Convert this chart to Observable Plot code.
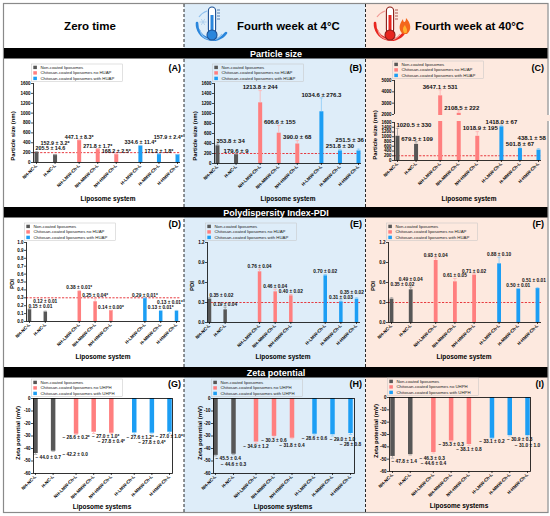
<!DOCTYPE html>
<html><head><meta charset="utf-8">
<script src="https://cdn.jsdelivr.net/npm/d3@7"></script>
<script src="https://cdn.jsdelivr.net/npm/@observablehq/plot@0.6"></script>
<style>
body{margin:0;background:#fff;}
#root{position:relative;width:550px;height:516px;font-family:"Liberation Sans",Arial,sans-serif;overflow:hidden;background:#fff;}
#root > svg, #root > div {position:absolute;}
</style></head><body><div id="root"></div>
<script>
// ---------- data ----------
const categories = ["NH-NC-L","H-NC-L","NH-LMW-Ch-L","NH-MMW-Ch-L","NH-HMW-Ch-L","H-LMW-Ch-L","H-MMW-Ch-L","H-HMW-Ch-L"];
const groups = [0,0,1,1,1,2,2,2];
const legendSize = ["Non-coated liposomes","Chitosan-coated liposomes no HUAP","Chitosan-coated liposomes with HUAP"];
const legendZeta = ["Non-coated liposomes","Chitosan-coated liposomes no UHPH","Chitosan-coated liposomes with UHPH"];

const sizeZero = [205.5,152.9,447.1,271.8,168.2,334.6,171.2,157.9];
const sizeZeroErr = [14.6,3.2,8.3,1.7,2.5,11.4,1.8,2.4];
const sizeZeroLab = ["205.5 ± 14.6","152.9 ± 3.2*","447.1 ± 8.3*","271.8 ± 1.7*","168.2 ± 2.5*","334.6 ± 11.4*","171.2 ± 1.8*","157.9 ± 2.4*"];
const size4 = [353.8,179.6,1213.8,606.6,390.0,1034.6,251.8,251.5];
const size4Err = [34,9,244,155,68,276.3,30,36];
const size4Lab = ["353.8 ± 34","179.6 ± 9","1213.8 ± 244","606.6 ± 155","390.0 ± 68","1034.6 ± 276.3","251.8 ± 30","251.5 ± 36"];
const size40 = [1020.5,679.5,3647.1,2108.5,1018.9,1418.0,501.8,438.1];
const size40Err = [330,109,531,222,195,67,67,58];
const size40Lab = ["1020.5 ± 330","679.5 ± 109","3647.1 ± 531","2108.5 ± 222","1018.9 ± 195","1418.0 ± 67","501.8 ± 67","438.1 ± 58"];

const pdiZero = [0.15,0.12,0.38,0.25,0.14,0.29,0.13,0.13];
const pdiZeroErr = [0.01,0.01,0.01,0.04,0.00,0.01,0.01,0.01];
const pdiZeroLab = ["0.15 ± 0.01","0.12 ± 0.01","0.38 ± 0.01*","0.25 ± 0.04*","0.14 ± 0.00*","0.29 ± 0.01*","0.13 ± 0.01*","0.13 ± 0.01*"];
const pdi4 = [0.35,0.19,0.76,0.46,0.40,0.70,0.31,0.35];
const pdi4Err = [0.02,0.04,0.04,0.04,0.02,0.02,0.03,0.02];
const pdi4Lab = ["0.35 ± 0.02","0.19 ± 0.04","0.76 ± 0.04","0.46 ± 0.04","0.40 ± 0.02","0.70 ± 0.02","0.31 ± 0.03","0.35 ± 0.02"];
const pdi40 = [0.35,0.49,0.93,0.61,0.71,0.88,0.50,0.51];
const pdi40Err = [0.02,0.04,0.04,0.05,0.02,0.10,0.01,0.01];
const pdi40Lab = ["0.35 ± 0.02","0.49 ± 0.04","0.93 ± 0.04","0.61 ± 0.05","0.71 ± 0.02","0.88 ± 0.10","0.50 ± 0.01","0.51 ± 0.01"];

const zetaZero = [-44.0,-42.2,-28.6,-27.0,-27.8,-27.6,-27.8,-27.0];
const zetaZeroErr = [0.7,0.0,0.2,1.0,0.4,1.2,0.4,1.0];
const zetaZeroLab = ["− 44.0 ± 0.7","− 42.2 ± 0.0","− 28.6 ± 0.2*","− 27.0 ± 1.0*","− 27.8 ± 0.4*","− 27.6 ± 1.2*","− 27.8 ± 0.4*","− 27.0 ± 1.0*"];
const zeta4 = [-45.5,-44.6,-34.9,-30.3,-31.8,-28.6,-29.0,-28.0];
const zeta4Err = [0.4,0.3,1.2,0.6,0.4,0.6,1.0,0.8];
const zeta4Lab = ["− 45.5 ± 0.4","− 44.6 ± 0.3","− 34.9 ± 1.2","− 30.3 ± 0.6","− 31.8 ± 0.4","− 28.6 ± 0.6","− 29.0 ± 1.0","− 28 ± 0.8"];
const zeta40 = [-47.8,-46.3,-44.6,-35.3,-38.1,-33.1,-30.9,-31.0];
const zeta40Err = [1.4,0.3,0.4,0.3,0.8,0.2,0.3,1.0];
const zeta40Lab = ["− 47.8 ± 1.4","− 46.3 ± 0.3","− 44.6 ± 0.4","− 35.3 ± 0.3","− 38.1 ± 0.8","− 33.1 ± 0.2","− 30.9 ± 0.3","− 31.0 ± 1.0"];

const sizeTicks = [0,200,400,600,800,1000,1200,1400,1600];
const sizeTicksBroken = [0,200,400,600,800,1000,1200,1400,1600,2000,3000,4000,5000];
const pdiTicksFine = [0,0.1,0.2,0.3,0.4,0.5,0.6,0.7,0.8,0.9,1.0];
const pdiTicks = [0,0.3,0.6,0.9,1.2];
const zetaTicks = [-60,-50,-40,-30,-20,-10,0];

const headers = ["Zero time","Fourth week at 4°C","Fourth week at 40°C"];
const bands = ["Particle size","Polydispersity Index-PDI","Zeta potential"];

// ---------- styles ----------
const colors = ["#575757","#ff7f7f","#1c9ef4"];
const errColors = ["#a0a0a0","#ffb3b3","#8ccbf7"];
const colBg = ["#ffffff","#deedf9","#fde9df"];
const font = '"Liberation Sans", Arial, sans-serif';

const root = d3.select("#root");
const rows = [{top:60,h:146},{top:218,h:140},{top:378,h:134}];
const cols = [{L:4,R:184},{L:185,R:365},{L:366,R:547}];
const W = 180;

// ---------- background ----------
const bg = root.append("svg").attr("width",550).attr("height",516).style("left","0px").style("top","0px");
bg.append("rect").attr("x",184).attr("y",4).attr("width",181.5).attr("height",508).attr("fill",colBg[1]);
bg.append("rect").attr("x",365.5).attr("y",4).attr("width",182).attr("height",508).attr("fill",colBg[2]);
bg.append("rect").attr("x",3.5).attr("y",3.5).attr("width",544.5).attr("height",509).attr("fill","none").attr("stroke","#8a8a8a").attr("stroke-width",1.2);
[184,365.5].forEach(x=>bg.append("line").attr("x1",x).attr("x2",x).attr("y1",4).attr("y2",512).attr("stroke","#111").attr("stroke-width",0.9).attr("stroke-dasharray","3,2"));
const bandY = [48,207,367];
bandY.forEach((y,i)=>{
  bg.append("rect").attr("x",4).attr("y",y).attr("width",543.5).attr("height",10.5).attr("fill","#000");
  bg.append("text").attr("x",276).attr("y",y+8.6).attr("text-anchor","middle").attr("fill","#fff")
    .attr("font-family",font).attr("font-weight","bold").attr("font-size",9).text(bands[i]);
});
bg.append("text").attr("x",90).attr("y",30).attr("text-anchor","middle").attr("font-family",font).attr("font-weight","bold").attr("font-size",11.5).text(headers[0]);
bg.append("text").attr("x",237).attr("y",30).attr("font-family",font).attr("font-weight","bold").attr("font-size",11.4).text(headers[1]);
bg.append("text").attr("x",415).attr("y",30).attr("font-family",font).attr("font-weight","bold").attr("font-size",11.4).text(headers[2]);

function icon(cx, cy, dark, main, light, hot){
  const g = bg.append("g");
  g.append("path").attr("d",`M${cx-15},${cy-3} A16,16 0 0,0 ${cx+14},${cy+7}`).attr("fill","none").attr("stroke",main).attr("stroke-width",2.6).attr("stroke-linecap","round");
  g.append("path").attr("d",`M${cx-12},${cy+4} A12,12 0 0,0 ${cx+10},${cy+8}`).attr("fill","none").attr("stroke",light).attr("stroke-width",1.2);
  g.append("path").attr("d",`M${cx-13},${cy-9} A16,16 0 0,1 ${cx-5},${cy-15}`).attr("fill","none").attr("stroke",light).attr("stroke-width",1.2);
  g.append("rect").attr("x",cx-3.6).attr("y",cy-19).attr("width",7.2).attr("height",26).attr("rx",3.6).attr("fill","#fff").attr("stroke",dark).attr("stroke-width",1.1);
  g.append("rect").attr("x",cx-1.5).attr("y",cy-11).attr("width",3).attr("height",18).attr("fill",main);
  g.append("circle").attr("cx",cx).attr("cy",cy+9).attr("r",5).attr("fill",main).attr("stroke",dark).attr("stroke-width",1.1);
  [-16,-13,-10,-7].forEach(d=>g.append("line").attr("x1",cx+5).attr("x2",cx+8).attr("y1",cy+d).attr("y2",cy+d).attr("stroke",dark).attr("stroke-width",0.7));
  if(hot){
    g.append("path").attr("d",`M${cx+13},${cy+8} C${cx+8},${cy+4} ${cx+9},${cy-2} ${cx+13},${cy-7} C${cx+13},${cy-3} ${cx+16},${cy-3} ${cx+16},${cy-8} C${cx+21},${cy-3} ${cx+22},${cy+4} ${cx+17},${cy+8} Z`).attr("fill","#f4661b");
    g.append("path").attr("d",`M${cx+14.5},${cy+7} C${cx+12},${cy+4} ${cx+13},${cy+1} ${cx+15},${cy-1} C${cx+16},${cy+2} ${cx+18},${cy+3} ${cx+16.5},${cy+7} Z`).attr("fill","#ffb02e");
  } else {
    const sx = cx-9, sy = cy-4;
    [0,60,120].forEach(a=>{const r=a*Math.PI/180;g.append("line").attr("x1",sx-3.5*Math.cos(r)).attr("y1",sy-3.5*Math.sin(r)).attr("x2",sx+3.5*Math.cos(r)).attr("y2",sy+3.5*Math.sin(r)).attr("stroke","#a9cdee").attr("stroke-width",0.8);});
  }
}
icon(212, 26, "#1b4f93", "#2a86dc", "#8fc0ee", false);
icon(390, 26, "#8a1a14", "#e8261f", "#f29a94", true);

// ---------- panels ----------
const panelDefs = [
 {id:"A",r:0,c:0,v:sizeZero,e:sizeZeroErr,t:sizeZeroLab,axisX:33,first:36,last:177,right:180,k:0.3,fTop:83,fBot:162,domain:[0,1600],ticks:sizeTicks,fmt:d=>String(d),ref:200,fs:5.4,bw:4,yt:"Particle size (nm)",xt:"Liposome system",ytx:13,yty:136,xtx:108,xty:201,leg:legendSize},
 {id:"B",r:0,c:1,v:size4,e:size4Err,t:size4Lab,axisX:214,first:217,last:358,right:361,k:0.3,fTop:83,fBot:163,domain:[0,1600],ticks:sizeTicks,fmt:d=>String(d),ref:200,fs:6,bw:4,yt:"Particle size (nm)",xt:"Liposome system",ytx:195,yty:136,xtx:288,xty:201,leg:legendSize},
 {id:"C",r:0,c:2,v:size40,e:size40Err,t:size40Lab,axisX:394,first:397,last:538,right:541,k:0.3,fTop:80,fBot:160,domain:[0,1600,2000,5000],rangeAbs:[160,122,114,80],broken:[1650,1950],ticks:sizeTicksBroken,fmt:d=>String(d),ref:200,fs:6,bw:4,yt:"Particle size (nm)",xt:"Liposome system",ytx:375,yty:135,xtx:469,xty:201,leg:legendSize},
 {id:"D",r:1,c:0,v:pdiZero,e:pdiZeroErr,t:pdiZeroLab,axisX:26,first:29,last:176,right:180,k:1.15,fTop:242,fBot:321,domain:[0,1],ticks:pdiTicksFine,fmt:d=>d.toFixed(1),ref:0.3,fs:4.8,bw:3.5,yt:"PDI",xt:"Liposome system",ytx:12,yty:284,xtx:103,xty:359,leg:legendSize},
 {id:"E",r:1,c:1,v:pdi4,e:pdi4Err,t:pdi4Lab,axisX:207,first:209,last:356,right:360,k:1.2,fTop:242,fBot:322,domain:[0,1.2],ticks:pdiTicks,fmt:d=>d.toFixed(1),ref:0.3,fs:4.8,bw:3.5,yt:"PDI",xt:"Liposome system",ytx:192,yty:286,xtx:283,xty:359,leg:legendSize},
 {id:"F",r:1,c:2,v:pdi40,e:pdi40Err,t:pdi40Lab,axisX:388,first:391,last:537,right:541,k:0.3,fTop:242,fBot:322,domain:[0,1.2],ticks:pdiTicks,fmt:d=>d.toFixed(1),ref:0.3,fs:4.8,bw:3.8,yt:"PDI",xt:"Liposome system",ytx:373,yty:286,xtx:464,xty:359,leg:legendSize},
 {id:"G",r:2,c:0,v:zetaZero,e:zetaZeroErr,t:zetaZeroLab,axisX:33,first:35,last:169,right:172,k:0.3,fTop:398,fBot:473,domain:[-60,0],ticks:zetaTicks,fmt:d=>String(d),neg:true,fs:4.8,bw:4.5,yt:"Zeta potential (mV)",xt:"Liposome systems",ytx:18,yty:433,xtx:102,xty:509,leg:legendZeta},
 {id:"H",r:2,c:1,v:zeta4,e:zeta4Err,t:zeta4Lab,axisX:213,first:215,last:350,right:354,k:0.25,fTop:398,fBot:473,domain:[-60,0],ticks:zetaTicks,fmt:d=>String(d),neg:true,fs:4.8,bw:4.5,yt:"Zeta potential (mV)",xt:"Liposome systems",ytx:200,yty:433,xtx:283,xty:509,leg:legendZeta},
 {id:"I",r:2,c:2,v:zeta40,e:zeta40Err,t:zeta40Lab,axisX:389,first:392,last:527,right:530,k:0.3,fTop:397,fBot:471,domain:[-60,0],ticks:zetaTicks,fmt:d=>String(d),neg:true,fs:4.8,bw:4.5,yt:"Zeta potential (mV)",xt:"Liposome systems",ytx:376,yty:431,xtx:459,xty:508,leg:legendZeta}
];

const ctx = document.createElement("canvas").getContext("2d");
function tw(t, fs){ ctx.font = `bold ${fs}px "Liberation Sans"`; return ctx.measureText(t).width; }
function overlap(a,b){ return a.x0 < b.x1 && a.x1 > b.x0 && a.y0 < b.y1 && a.y1 > b.y0; }
const shifts = [0,1,-1,2,-2,3,-3,4,-4,5,-5,6,-6,8,-8,10,-10,12,-12,15,-15,18,-18,22,-22];

panelDefs.forEach(def=>{
  const L = cols[def.c].L, top = rows[def.r].top, H = rows[def.r].h;
  const k = def.k, span = 7 + 2*k;
  const pos = categories.map((_,i)=> i + groups[i]*k);
  const xRange = [def.first - L, def.last - L];
  const yRange = (def.rangeAbs || [def.fBot, def.fTop]).map(y=>y-top);
  const xs = d3.scaleLinear([0,span], xRange);
  const ys = d3.scaleLinear(def.domain, yRange);
  const u = (xRange[1]-xRange[0])/span;
  const xLeft = xs.invert(def.axisX - L), xRight = xs.invert(def.right - L);
  const sgn = def.neg ? -1 : 1;
  const data = categories.map((name,i)=>({p:pos[i], v:def.v[i], e:def.e[i], g:groups[i], t:def.t[i], tip:def.v[i]+sgn*def.e[i]}));

  // label placement in pixel space, converted back to data units
  const obstacles = data.map(d=>({x0:xs(d.p)-def.bw/2-0.7, x1:xs(d.p)+def.bw/2+0.7, y0:Math.min(ys(0),ys(d.tip))-0.5, y1:Math.max(ys(0),ys(d.tip))+0.5}));
  const legendBox = {x0:def.axisX-L-2, x1:def.axisX-L+92, y0:def.fTop-top-20, y1:def.fTop-top-0.8};
  const placed = [];
  const minX = def.axisX - L + 1.5, maxX = cols[def.c].R - L - 1.2;
  const frameBottom = def.fBot - top;
  data.forEach((d,i)=>{
    const w = tw(d.t, def.fs) + 0.8;
    const hgt = def.fs*0.92;
    const others = obstacles.filter((_,j)=>j!==i);
    let best = null;
    for(const dx of shifts){
      let cx = xs(d.p) + dx;
      cx = Math.max(cx, minX + w/2); cx = Math.min(cx, maxX - w/2);
      let box;
      if(!def.neg){ const yb = ys(d.tip)-1.2; box = {x0:cx-w/2,x1:cx+w/2,y0:yb-hgt,y1:yb}; }
      else { const yt = ys(d.tip)+1.2; box = {x0:cx-w/2,x1:cx+w/2,y0:yt,y1:yt+hgt}; }
      const start = def.neg ? box.y0 : box.y1;
      let moved = true, guard = 0;
      while(moved && guard++ < 60){
        moved = false;
        for(const ob of placed.concat(others)){
          if(overlap(box,ob)){
            if(!def.neg){ box.y1 = ob.y0 - 0.6; box.y0 = box.y1 - hgt; }
            else { box.y0 = ob.y1 + 0.6; box.y1 = box.y0 + hgt; }
            moved = true; break;
          }
        }
      }
      let cost = Math.abs((def.neg ? box.y0 : box.y1) - start) + Math.abs(cx - xs(d.p))*0.35;
      if(overlap(box, legendBox)) cost += 1000;
      if(def.neg && box.y1 > frameBottom - 0.5) cost += 1000;
      if(!best || cost < best.cost) best = {cost, box, cx};
    }
    placed.push(best.box);
    d.lx = xs.invert(best.cx);
    d.ly = ys.invert(def.neg ? best.box.y0 : best.box.y1);
  });

  const marks = [];
  if(def.ref != null) marks.push(Plot.ruleY([def.ref], {x1:xLeft, x2:xRight, stroke:"#e4262b", strokeWidth:0.9, strokeDasharray:"2.2,1.4"}));
  marks.push(Plot.ruleX(data, {x:"p", y1:0, y2:"v", stroke:d=>colors[d.g], strokeWidth:def.bw}));
  marks.push(Plot.ruleX(data, {x:"p", y1:"v", y2:"tip", stroke:d=>errColors[d.g], strokeWidth:0.8}));
  const cap = 1.7/u;
  marks.push(Plot.link(data, {x1:d=>d.p-cap, x2:d=>d.p+cap, y1:"tip", y2:"tip", stroke:d=>errColors[d.g], strokeWidth:0.8}));
  if(def.broken){
    marks.push(Plot.rect([0], {x1:xLeft+0.04, x2:xRight+0.5, y1:def.broken[0], y2:def.broken[1], fill:colBg[def.c]}));
    marks.push(Plot.ruleX([xLeft], {y1:0, y2:1600, stroke:"#000", strokeWidth:0.8}));
    marks.push(Plot.ruleX([xLeft], {y1:2000, y2:5000, stroke:"#000", strokeWidth:0.8}));
  } else if(!def.neg){
    marks.push(Plot.ruleX([xLeft], {y1:def.domain[0], y2:def.domain[def.domain.length-1], stroke:"#000", strokeWidth:0.8}));
  }
  if(def.neg) marks.push(Plot.frame({stroke:"#000", strokeWidth:0.8}));
  else marks.push(Plot.ruleY([0], {x1:xLeft, x2:xRight, stroke:"#000", strokeWidth:0.8}));
  marks.push(Plot.axisY({ticks:def.ticks, tickFormat:def.fmt, tickSize:2, tickPadding:1, label:null, strokeWidth:0.7}));
  marks.push(Plot.axisX({ticks:pos, tickFormat:d=>categories[pos.findIndex(q=>Math.abs(q-d)<1e-9)], tickRotate:-45, tickSize:2, tickPadding:0.5, label:null, strokeWidth:0.7}));
  marks.push(Plot.text(data, {x:"lx", y:"ly", text:"t", fontSize:def.fs, fontWeight:"bold", fill:"#111", textAnchor:"middle", lineAnchor: def.neg ? "top" : "bottom"}));

  const plot = Plot.plot({
    width:W, height:H,
    marginLeft:def.axisX - L, marginRight:L + W - def.right,
    marginTop:def.fTop - top, marginBottom:top + H - def.fBot,
    x:{type:"linear", domain:[0,span], range:xRange},
    y:{type:"linear", domain:def.domain, range:yRange},
    color:{type:"identity"},
    style:{fontFamily:font, fontSize:"4.5px", fontWeight:"bold", background:"transparent", overflow:"visible", maxWidth:"none"},
    marks
  });
  const wrap = root.append("div").style("left",L+"px").style("top",top+"px").style("width",W+"px").style("height",H+"px");
  wrap.node().appendChild(plot);
});

// ---------- overlay: legends, letters, titles ----------
const ov = root.append("svg").attr("width",550).attr("height",516).style("left","0px").style("top","0px").style("pointer-events","none");
const letterY = [71,227,387];
panelDefs.forEach(def=>{
  const bx = def.axisX - 1.5, by = def.fTop - 19;
  ov.append("rect").attr("x",bx).attr("y",by).attr("width",91).attr("height",17.5).attr("fill","none").attr("stroke","#c4c4c4").attr("stroke-width",0.5);
  def.leg.forEach((name,i)=>{
    const cy = by + 3.4 + i*5.5;
    ov.append("rect").attr("x",bx+1.8).attr("y",cy-1.7).attr("width",3.6).attr("height",3.4).attr("fill",colors[i]);
    ov.append("text").attr("x",bx+9).attr("y",cy+1.5).attr("font-family",font).attr("font-size",4.3).attr("fill","#222").text(name);
  });
  ov.append("text").attr("x",cols[def.c].R-3).attr("y",letterY[def.r]).attr("text-anchor","end").attr("font-family",font).attr("font-weight","bold").attr("font-size",9).text(`(${def.id})`);
  ov.append("text").attr("transform",`translate(${def.ytx},${def.yty}) rotate(-90)`).attr("text-anchor","middle").attr("dominant-baseline","middle").attr("font-family",font).attr("font-weight","bold").attr("font-size",6).text(def.yt);
  ov.append("text").attr("x",def.xtx).attr("y",def.xty).attr("text-anchor","middle").attr("font-family",font).attr("font-weight","bold").attr("font-size",6.5).text(def.xt);
});
</script>
</body></html>
